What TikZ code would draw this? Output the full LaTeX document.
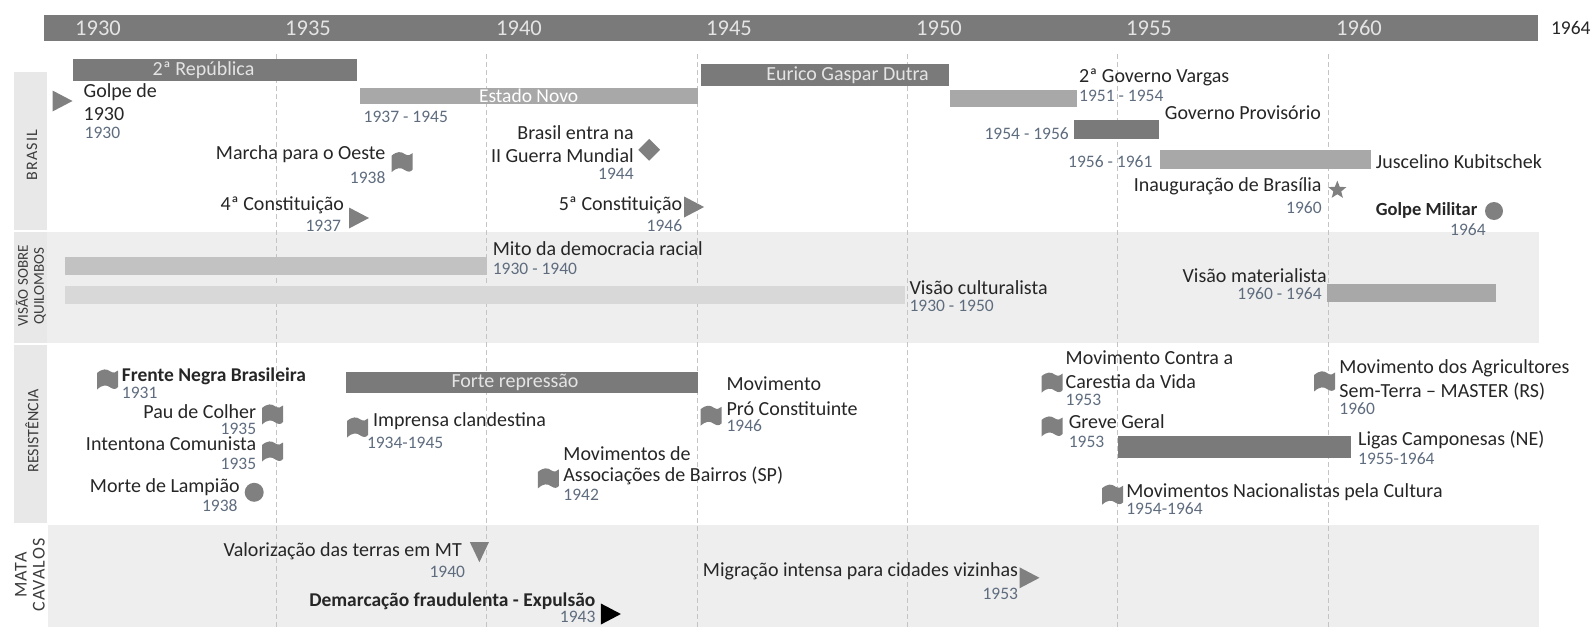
\documentclass[tikz,border=0pt]{standalone}
\usepackage{fontspec}
\setmainfont{Carlito}
\usetikzlibrary{shapes.geometric}
\definecolor{dk}{RGB}{122,122,122}
\definecolor{lt}{RGB}{168,168,168}
\definecolor{mito}{RGB}{194,194,194}
\definecolor{cult}{RGB}{216,216,216}
\definecolor{bgc}{RGB}{238,238,238}
\definecolor{strip}{RGB}{232,232,232}
\definecolor{txt}{RGB}{38,38,38}
\definecolor{datec}{RGB}{94,108,126}
\definecolor{mk}{RGB}{128,128,128}
\definecolor{vl}{RGB}{196,196,196}
\definecolor{yr}{RGB}{228,228,228}
\definecolor{secc}{RGB}{60,60,60}
\tikzset{
  lbl/.style={inner sep=0pt, outer sep=0pt, text=txt, font=\fontsize{20}{23}\selectfont},
  bl/.style={lbl, font=\fontsize{19.5}{23}\selectfont\bfseries},
  dt/.style={inner sep=0pt, outer sep=0pt, text=datec, font=\fontsize{17.5}{20}\selectfont},
  bartxt/.style={inner sep=0pt, text=yr, font=\fontsize{20}{22}\selectfont},
  yrtxt/.style={inner sep=0pt, text=yr, font=\fontsize{22.5}{24}\selectfont, anchor=base west},
  sect/.style={inner sep=0pt, text=secc, rotate=90, align=center},
  vline/.style={draw=vl, dash pattern=on 5pt off 3pt, line width=0.8pt},
  bar/.style={inner sep=0pt, outer sep=0pt, anchor=north west},
  rtri/.pic={\fill[mk] (-9.5,-10.5) -- (10.5,0) -- (-9.5,10.5) -- cycle;},
  btri/.pic={\fill[black] (-9.5,-10.5) -- (10.5,0) -- (-9.5,10.5) -- cycle;},
  dtri/.pic={\fill[mk] (-9.5,-9.5) -- (9.5,-9.5) -- (0,10.5) -- cycle;},
  flag/.pic={\fill[mk] (-10.5,-7) .. controls (-5,-11.5) and (-1,-11.5) .. (3,-8.5)
      .. controls (6,-6.5) and (8.5,-7.5) .. (10.5,-9.5) -- (10.5,7)
      .. controls (8.5,9.5) and (6,9.5) .. (3,7.5)
      .. controls (-1,4.5) and (-5,4.5) .. (-10.5,9.5) -- cycle;},
  dotmk/.style={circle, fill=mk, inner sep=0pt, minimum size=18pt},
  diamk/.style={diamond, fill=mk, inner sep=0pt, minimum size=22pt},
  starmk/.style={star, star points=5, star point ratio=2.3, fill=mk, inner sep=0pt, minimum size=19pt},
}
\begin{document}
\begin{tikzpicture}[x=1pt, y=-1pt]
\useasboundingbox (0,0) rectangle (1596,627);
% backgrounds
\fill[strip] (14,72) rectangle (47,230);
\fill[bgc] (14,232) rectangle (1539,343);
\fill[strip] (14,232) rectangle (47,343);
\fill[strip] (14,345) rectangle (47,523);
\fill[bgc] (48,525) rectangle (1539,627);
% vertical dashed lines
\foreach \xx in {276,486.5,697,907.5,1117,1328}
  \draw[vline] (\xx,54) -- (\xx,627);
% top bar
\node[bar, fill=dk, minimum width=1494, minimum height=26.5] (topbar) at (44,14.5) {};
\node[yrtxt] (y30) at (75,35.8) {1930};
\node[yrtxt] (y35) at (285,35.8) {1935};
\node[yrtxt] (y40) at (496,35.8) {1940};
\node[yrtxt] (y45) at (706,35.8) {1945};
\node[yrtxt] (y50) at (916,35.8) {1950};
\node[yrtxt] (y55) at (1126,35.8) {1955};
\node[yrtxt] (y60) at (1336,35.8) {1960};
\node[lbl, anchor=base west, font=\fontsize{19.5}{20}\selectfont] (y64) at (1551,34.5) {1964};
% section labels
\node[sect, font=\fontsize{16}{17}\selectfont\addfontfeature{LetterSpace=8}] (sBR) at (32,155) {BRASIL};
\node[sect, font=\fontsize{15}{16}\selectfont] (sVQ) at (31,286) {VISÃO SOBRE\\QUILOMBOS};
\node[sect, font=\fontsize{16}{17}\selectfont] (sRE) at (32,431) {RESISTÊNCIA};
\node[sect, font=\fontsize{18}{18}\selectfont\addfontfeature{LetterSpace=6}] (sMC) at (30,575) {MATA\\CAVALOS};
% ---------------- BRASIL
\node[bar, fill=dk, minimum width=284, minimum height=21.5] (rep) at (73.4,59) {};
\node[bartxt] (repT) at (203.5,69.7) {2ª República};
\node[bar, fill=lt, minimum width=338, minimum height=16.6] (est) at (359.6,87.8) {};
\node[bartxt, text=white, font=\fontsize{19.5}{20}\selectfont] (estT) at (528.6,95.5) {Estado Novo};
\node[dt, anchor=base west] (estD) at (363.7,122.8) {1937 - 1945};
\pic (golpeM) at (62,101) {rtri};
\node[lbl, anchor=base west, align=left, font=\fontsize{20}{22.8}\selectfont] (golpe) at (83.7,120.7) {Golpe de\\1930};
\node[dt, anchor=base west] (golpeD) at (84.7,138.2) {1930};
\pic (marchaM) at (402,162.7) {flag};
\node[lbl, anchor=base east] (marcha) at (385.4,159.9) {Marcha para o Oeste};
\node[dt, anchor=base east] (marchaD) at (385.4,183.7) {1938};
\pic (c4M) at (358.5,218) {rtri};
\node[lbl, anchor=base east] (c4) at (344,210.5) {4ª Constituição};
\node[dt, anchor=base east] (c4D) at (341,231.2) {1937};
\node[bar, fill=dk, minimum width=248, minimum height=22] (dutra) at (700.8,64) {};
\node[bartxt] (dutraT) at (847.5,75) {Eurico Gaspar Dutra};
\node[diamk] (guerraM) at (649.2,149.8) {};
\node[lbl, anchor=base east, align=right, font=\fontsize{20}{22.8}\selectfont] (guerra) at (633.7,162) {Brasil entra na\\II Guerra Mundial};
\node[dt, anchor=base east] (guerraD) at (633.7,179.6) {1944};
\pic (c5M) at (693.6,207) {rtri};
\node[lbl, anchor=base east] (c5) at (682.2,210.5) {5ª Constituição};
\node[dt, anchor=base east] (c5D) at (682.2,231.2) {1946};
\node[bar, fill=lt, minimum width=127.4, minimum height=16.5] (vargas) at (949.8,90) {};
\node[lbl, anchor=base west] (vargasT) at (1079.2,82.2) {2ª Governo Vargas};
\node[dt, anchor=base west] (vargasD) at (1079.2,101) {1951 - 1954};
\node[bar, fill=dk, minimum width=84.6, minimum height=18.8] (prov) at (1074,120.1) {};
\node[lbl, anchor=base west] (provT) at (1164.9,119.8) {Governo Provisório};
\node[dt, anchor=base east] (provD) at (1068.8,139) {1954 - 1956};
\node[bar, fill=lt, minimum width=211, minimum height=18.8] (jk) at (1159.7,150.4) {};
\node[lbl, anchor=base west] (jkT) at (1375.9,168.9) {Juscelino Kubitschek};
\node[dt, anchor=base east] (jkD) at (1152.4,167.9) {1956 - 1961};
\node[starmk] (bsbM) at (1337.3,190.1) {};
\node[lbl, anchor=base east] (bsb) at (1321.6,191.9) {Inauguração de Brasília};
\node[dt, anchor=base east] (bsbD) at (1321.6,213.9) {1960};
\node[dotmk] (milM) at (1494,211) {};
\node[bl, anchor=base west, font=\fontsize{18.5}{22}\selectfont\bfseries] (mil) at (1375.9,215.9) {Golpe Militar};
\node[dt, anchor=base east] (milD) at (1485.6,235.8) {1964};
% ---------------- VISAO
\node[bar, fill=mito, minimum width=421.5, minimum height=17.6] (mitoB) at (65.1,257.2) {};
\node[lbl, anchor=base west] (mitoT) at (492.8,255.9) {Mito da democracia racial};
\node[dt, anchor=base west] (mitoD) at (492.8,274.6) {1930 - 1940};
\node[bar, fill=cult, minimum width=840.3, minimum height=17.6] (cultB) at (65.1,286.1) {};
\node[lbl, anchor=base west] (cultT) at (909.5,294.2) {Visão culturalista};
\node[dt, anchor=base west] (cultD) at (909.5,311.8) {1930 - 1950};
\node[bar, fill=lt, minimum width=169.2, minimum height=17.8] (matB) at (1326.8,283.7) {};
\node[lbl, anchor=base east] (matT) at (1326.8,282.4) {Visão materialista};
\node[dt, anchor=base east] (matD) at (1321.6,299.1) {1960 - 1964};
% ---------------- RESISTENCIA
\pic (fnbM) at (107.5,380) {flag};
\node[bl, anchor=base west] (fnb) at (121.9,381.5) {Frente Negra Brasileira};
\node[dt, anchor=base west] (fnbD) at (121.9,398) {1931};
\node[bar, fill=dk, minimum width=351.6, minimum height=20.6] (forte) at (346.1,371.9) {};
\node[bartxt] (forteT) at (515,382) {Forte repressão};
\pic (pauM) at (272.5,415) {flag};
\node[lbl, anchor=base east] (pau) at (256.2,418) {Pau de Colher};
\node[dt, anchor=base east] (pauD) at (256.2,434) {1935};
\pic (impM) at (357.5,428) {flag};
\node[lbl, anchor=base west] (imp) at (373,426) {Imprensa clandestina};
\node[dt, anchor=base west] (impD) at (367,448.7) {1934-1945};
\pic (intM) at (272.5,452) {flag};
\node[lbl, anchor=base east] (int) at (256.2,450.8) {Intentona Comunista};
\node[dt, anchor=base east] (intD) at (256.2,469.4) {1935};
\node[dotmk, minimum size=19pt] (lampM) at (254.2,492.3) {};
\node[lbl, anchor=base east] (lamp) at (239.7,492.1) {Morte de Lampião};
\node[dt, anchor=base east] (lampD) at (237.6,511.8) {1938};
\pic (proM) at (711,416.3) {flag};
\node[lbl, anchor=base west, align=left, font=\fontsize{20}{24.8}\selectfont] (pro) at (726.6,415) {Movimento\\Pró Constituinte};
\node[dt, anchor=base west] (proD) at (726.6,431) {1946};
\pic (assM) at (548.4,478.9) {flag};
\node[lbl, anchor=base west, align=left, font=\fontsize{20}{21.7}\selectfont] (ass) at (563.4,481.8) {Movimentos de\\Associações de Bairros (SP)};
\node[dt, anchor=base west] (assD) at (563.4,500.4) {1942};
\pic (carM) at (1052,383.2) {flag};
\node[lbl, anchor=base west, align=left, font=\fontsize{20}{24}\selectfont] (car) at (1065.7,388.9) {Movimento Contra a\\Carestia da Vida};
\node[dt, anchor=base west] (carD) at (1065.7,405.7) {1953};
\pic (grvM) at (1052,427) {flag};
\node[lbl, anchor=base west] (grv) at (1068.8,428.6) {Greve Geral};
\node[dt, anchor=base west] (grvD) at (1068.8,447.5) {1953};
\pic (masM) at (1324.7,381.9) {flag};
\node[lbl, anchor=base west, align=left, font=\fontsize{20}{24.1}\selectfont] (mas) at (1339.4,397.3) {Movimento dos Agricultores\\Sem-Terra – MASTER (RS)};
\node[dt, anchor=base west] (masD) at (1339.4,414) {1960};
\node[bar, fill=dk, minimum width=232.9, minimum height=21.9] (ligas) at (1117.9,435.7) {};
\node[lbl, anchor=base west] (ligasT) at (1358.2,445.8) {Ligas Camponesas (NE)};
\node[dt, anchor=base west] (ligasD) at (1358.2,464.6) {1955-1964};
\pic (nacM) at (1112.6,495.2) {flag};
\node[lbl, anchor=base west] (nac) at (1126.3,497) {Movimentos Nacionalistas pela Cultura};
\node[dt, anchor=base west] (nacD) at (1126.3,514.8) {1954-1964};
% ---------------- MATA CAVALOS
\pic (valM) at (479.4,551.7) {dtri};
\node[lbl, anchor=base east] (val) at (461.8,556.2) {Valorização das terras em MT};
\node[dt, anchor=base east] (valD) at (465,577.9) {1940};
\pic (demM) at (610.4,614) {btri};
\node[bl, anchor=base east] (dem) at (595.4,606.5) {Demarcação fraudulenta - Expulsão};
\node[dt, anchor=base east] (demD) at (595.4,622.5) {1943};
\pic (migM) at (1029,577.8) {rtri};
\node[lbl, anchor=base west] (mig) at (702.9,576.8) {Migração intensa para cidades vizinhas};
\node[dt, anchor=base east] (migD) at (1018,599.6) {1953};
\end{tikzpicture}
\end{document}
